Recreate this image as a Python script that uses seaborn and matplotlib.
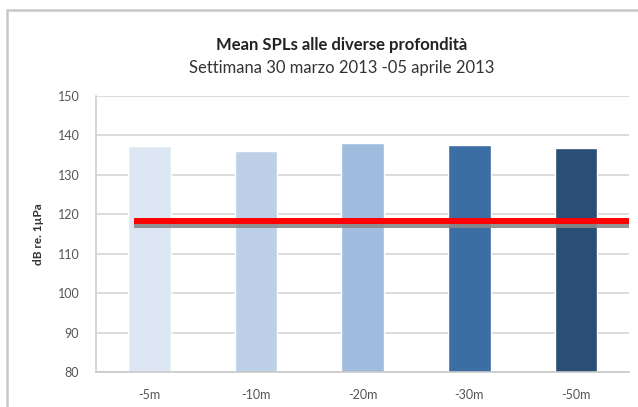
import pandas as pd
import seaborn as sns
import matplotlib.pyplot as plt
import matplotlib.patheffects as pe
from matplotlib.lines import Line2D

# data
depths = ['-5m', '-10m', '-20m', '-30m', '-50m']
mean_spl = [137.25, 136.1, 137.9, 137.5, 136.8]
bar_colors = ['#dde7f3', '#bdd0e8', '#a0bde0', '#3d6ea3', '#2b4e76']
threshold = 118.25
y_ticks = [80, 90, 100, 110, 120, 130, 140, 150]

df = pd.DataFrame({'depth': depths, 'spl': mean_spl})

sns.set_style('white')
plt.rcParams['font.family'] = ['Lato', 'DejaVu Sans']

fig = plt.figure(figsize=(6.38, 4.07), dpi=100)
ax = fig.add_axes([0.1505, 0.085, 0.836, 0.68])

sns.barplot(data=df, x='depth', y='spl', hue='depth', palette=bar_colors,
            saturation=1, width=0.40, legend=False, ax=ax, zorder=2)

ax.set_ylim(80, 150)
ax.set_yticks(y_ticks)
ax.set_xlim(-0.5, 4.5)
ax.yaxis.grid(True, color='#d9d9d9', lw=1.3, zorder=0)
ax.set_axisbelow(True)
for s in ['top', 'right']:
    ax.spines[s].set_visible(False)
ax.spines['left'].set_color('#d0d0d0')
ax.spines['bottom'].set_color('#c8c8c8')
ax.spines['left'].set_linewidth(1.2)
ax.spines['bottom'].set_linewidth(1.2)
ax.tick_params(axis='y', length=3, color='#d0d0d0', labelsize=9, labelcolor='#555555', pad=9)
ax.tick_params(axis='x', length=0, labelsize=9, labelcolor='#555555', pad=12)
ax.set_xlabel('')
ax.set_ylabel('dB re. 1µPa', fontsize=8.5, fontweight='bold', color='#333333', labelpad=10)

# red reference line with grey shadow, drawn over the bars
ax.plot([-0.14, 4.5], [threshold, threshold], color='#ff0000', lw=4.3,
        solid_capstyle='butt', clip_on=False, zorder=5,
        path_effects=[pe.SimpleLineShadow(offset=(0, -2.4), shadow_color='#888888', alpha=0.9),
                      pe.Normal()])

fig.text(0.536, 0.889, 'Mean SPLs alle diverse profondità', ha='center', va='center',
         fontsize=12, fontweight='bold', color='#222222')
fig.text(0.536, 0.833, 'Settimana 30 marzo 2013 -05 aprile 2013', ha='center', va='center',
         fontsize=12, color='#333333')

# outer chart frame
fig.add_artist(Line2D([7 / 638, 7 / 638], [0, 1 - 10 / 407], color='#c8c8c8', lw=1.8))
fig.add_artist(Line2D([7 / 638, 1], [1 - 10 / 407, 1 - 10 / 407], color='#c8c8c8', lw=1.8))

fig.savefig('out.png', dpi=100)
